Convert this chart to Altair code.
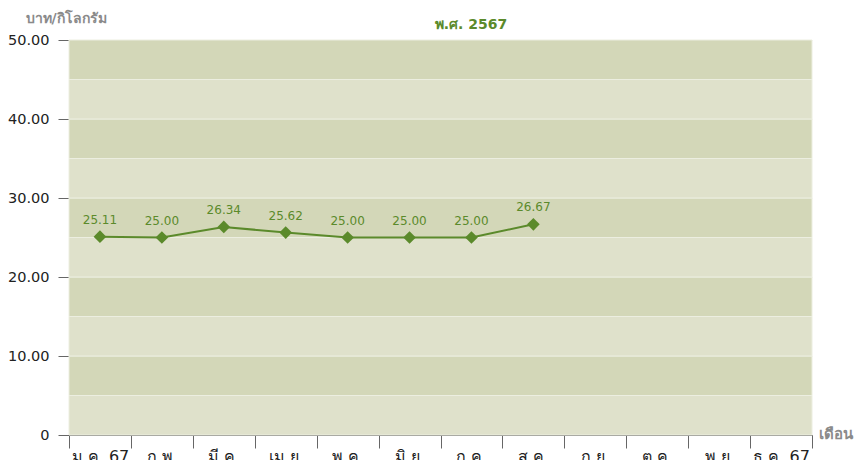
import altair as alt
import pandas as pd

months = ["ม.ค. 67", "ก.พ.", "มี.ค.", "เม.ย.", "พ.ค.", "มิ.ย.", "ก.ค.", "ส.ค.", "ก.ย.", "ต.ค.", "พ.ย.", "ธ.ค. 67"]
price_months = ["ม.ค. 67", "ก.พ.", "มี.ค.", "เม.ย.", "พ.ค.", "มิ.ย.", "ก.ค.", "ส.ค."]
prices = [25.11, 25.00, 26.34, 25.62, 25.00, 25.00, 25.00, 26.67]
band_lo = [0, 5, 10, 15, 20, 25, 30, 35, 40, 45]
band_hi = [5, 10, 15, 20, 25, 30, 35, 40, 45, 50]
band_kind = ["light", "dark", "light", "dark", "light", "dark", "light", "dark", "light", "dark"]
title_text = ["พ.ศ. 2567"]

FONT = "Tahoma, Verdana, DejaVu Sans, sans-serif"
GREEN = "#5b8a2b"

df = pd.DataFrame({"month": price_months, "price": prices})
bands = pd.DataFrame({"lo": band_lo, "hi": band_hi, "kind": band_kind})

xscale = alt.Scale(domain=months, paddingInner=0, paddingOuter=0)
yscale = alt.Scale(domain=[0, 50], nice=False)

bg = alt.Chart(bands).mark_rect(stroke="#eceee0", strokeWidth=1).encode(
    y=alt.Y("lo:Q", scale=yscale,
            axis=alt.Axis(values=[0, 10, 20, 30, 40, 50],
                          labelExpr="datum.value == 0 ? '0' : format(datum.value, '.2f')",
                          labelFontSize=14.5, labelColor="#222", labelFont=FONT,
                          tickSize=11, tickColor="#666", domainColor="#666",
                          labelPadding=9,
                          grid=True, gridColor="#f2f2ea", gridDash=[3, 2], gridWidth=1,
                          title="บาท/กิโลกรัม", titleAngle=0, titleX=-44, titleY=-22,
                          titleAlign="left", titleBaseline="middle", titleFontSize=14,
                          titleColor="#8a8a8a", titleFont=FONT, titleFontWeight="bold")),
    y2="hi:Q",
    color=alt.Color("kind:N", scale=alt.Scale(domain=["light", "dark"], range=["#dfe1cb", "#d3d7b8"]), legend=None),
)

xaxis = alt.Axis(tickBand="extent", labelAngle=0, labelFontSize=16, labelColor="#222", labelFont=FONT,
                 tickSize=13, tickColor="#666", domainColor="#666", labelPadding=0, grid=False,
                 title="เดือน", titleX=749, titleY=-2, titleAlign="left", titleBaseline="middle",
                 titleFontSize=15, titleColor="#8a8a8a", titleFont=FONT, titleFontWeight="bold")

base = alt.Chart(df).encode(x=alt.X("month:N", scale=xscale, sort=months, axis=xaxis),
                            y=alt.Y("price:Q", scale=yscale))

line = base.mark_line(color=GREEN, strokeWidth=2)
pts = base.mark_point(shape="diamond", filled=True, size=160, color=GREEN, opacity=1)
labels = base.mark_text(dy=-17, fontSize=12, color=GREEN, font=FONT).encode(text=alt.Text("price:Q", format=".2f"))

title = alt.Chart(pd.DataFrame({"t": title_text})).mark_text(
    fontSize=14, fontWeight="bold", color=GREEN, font=FONT, align="center", baseline="middle"
).encode(text="t:N", x=alt.value(402), y=alt.value(-15))

chart = alt.layer(bg, line, pts, labels, title).properties(
    width=743, height=395,
    autosize=alt.AutoSizeParams(type="none"),
    padding={"left": 61, "top": 32, "right": 44, "bottom": 30},
).configure_view(stroke=None)

chart.save("out.html", embed_options={"renderer": "svg", "actions": False})
